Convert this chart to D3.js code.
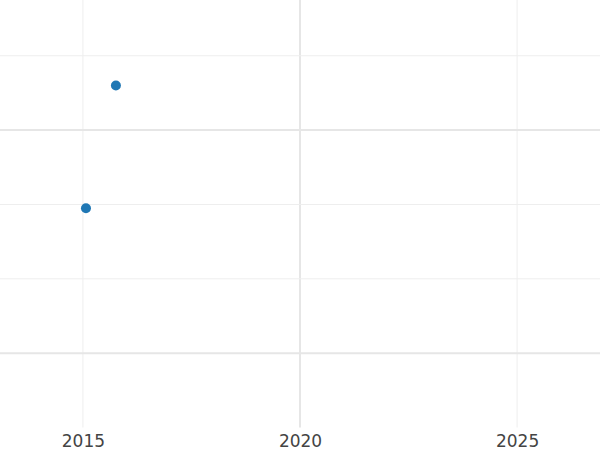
<!DOCTYPE html>
<html>
<head>
<meta charset="utf-8">
<script src="https://cdn.jsdelivr.net/npm/d3@7"></script>
<style>
  body { margin: 0; background: #fff; }
  svg { display: block; }
</style>
</head>
<body>
<div id="chart"></div>
<script>
// data
var years = [2015.76, 2015.07];
var values = [3.6, 1.95];
var xTicks = [2015, 2020, 2025];
var xMajor = [2020];
var yTicks = [0, 1, 2, 3, 4];
var yMajor = [0, 3];

var width = 600, height = 450;
var plotBottom = 427.5;

var x = d3.scaleLinear().domain([2013.09, 2026.91]).range([0, width]);
var y = d3.scaleLinear().domain([-1, 4.75]).range([plotBottom, 0]);

var svg = d3.select("#chart").append("svg")
	.attr("width", width)
	.attr("height", height);

// vertical grid
svg.append("g").attr("class", "xgrid")
	.selectAll("line")
	.data(xTicks)
	.enter().append("line")
	.attr("x1", function(d) { return x(d); })
	.attr("x2", function(d) { return x(d); })
	.attr("y1", 0)
	.attr("y2", plotBottom)
	.attr("stroke", function(d) { return xMajor.indexOf(d) >= 0 ? "#e6e6e6" : "#eeeeee"; })
	.attr("stroke-width", function(d) { return xMajor.indexOf(d) >= 0 ? 2 : 1; });

// horizontal grid
svg.append("g").attr("class", "ygrid")
	.selectAll("line")
	.data(yTicks)
	.enter().append("line")
	.attr("x1", 0)
	.attr("x2", width)
	.attr("y1", function(d) { return y(d); })
	.attr("y2", function(d) { return y(d); })
	.attr("stroke", function(d) { return yMajor.indexOf(d) >= 0 ? "#e6e6e6" : "#eeeeee"; })
	.attr("stroke-width", function(d) { return yMajor.indexOf(d) >= 0 ? 2 : 1; });

// x axis labels
var xAxis = d3.axisBottom(x)
	.tickValues(xTicks)
	.tickFormat(d3.format("d"))
	.tickSize(0)
	.tickPadding(7);

var gx = svg.append("g")
	.attr("transform", "translate(0," + plotBottom + ")")
	.call(xAxis);
gx.select(".domain").remove();
gx.selectAll("text")
	.attr("fill", "#444")
	.style("font-family", "DejaVu Sans, sans-serif")
	.style("font-size", "17px");

// points
svg.append("g").attr("class", "points")
	.selectAll("circle")
	.data(years)
	.enter().append("circle")
	.attr("cx", function(d) { return x(d); })
	.attr("cy", function(d, i) { return y(values[i]); })
	.attr("r", 5)
	.attr("fill", "#1f77b4");
</script>
</body>
</html>
